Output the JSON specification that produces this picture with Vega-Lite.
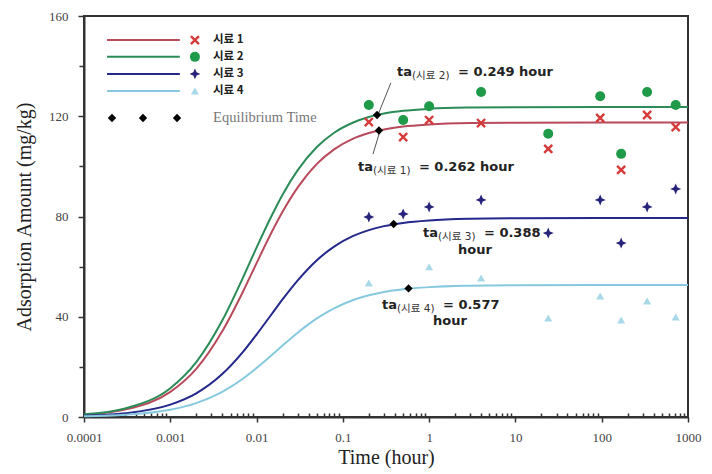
{
  "$schema": "https://vega.github.io/schema/vega-lite/v6.json",
  "width": 604,
  "height": 401,
  "autosize": {"type": "none"},
  "padding": {"left": 84, "top": 16, "right": 24, "bottom": 57},
  "background": "white",
  "config": {
    "view": {"stroke": "#333", "strokeWidth": 2},
    "axis": {
      "grid": false,
      "domainColor": "#333",
      "domainWidth": 2,
      "tickColor": "#333",
      "tickWidth": 1.5,
      "labelFont": "Liberation Serif",
      "labelFontSize": 13,
      "labelColor": "#444",
      "titleFont": "Liberation Serif",
      "titleFontSize": 20,
      "titleFontWeight": "normal",
      "titleColor": "#222"
    }
  },
  "datasets": {
    "curves": [
      {"time": 0.0001, "amount": 0.92, "sample": "시료 1"},
      {"time": 0.0003, "amount": 2.94, "sample": "시료 1"},
      {"time": 0.001, "amount": 10.0, "sample": "시료 1"},
      {"time": 0.002, "amount": 19.2, "sample": "시료 1"},
      {"time": 0.004, "amount": 34.2, "sample": "시료 1"},
      {"time": 0.007, "amount": 50.2, "sample": "시료 1"},
      {"time": 0.01, "amount": 61.4, "sample": "시료 1"},
      {"time": 0.015, "amount": 73.8, "sample": "시료 1"},
      {"time": 0.02, "amount": 81.85, "sample": "시료 1"},
      {"time": 0.03, "amount": 91.6, "sample": "시료 1"},
      {"time": 0.05, "amount": 101.0, "sample": "시료 1"},
      {"time": 0.08, "amount": 106.9, "sample": "시료 1"},
      {"time": 0.13, "amount": 111.0, "sample": "시료 1"},
      {"time": 0.2, "amount": 113.3, "sample": "시료 1"},
      {"time": 0.3, "amount": 114.75, "sample": "시료 1"},
      {"time": 0.5, "amount": 115.9, "sample": "시료 1"},
      {"time": 1, "amount": 116.7, "sample": "시료 1"},
      {"time": 3, "amount": 117.26, "sample": "시료 1"},
      {"time": 10, "amount": 117.43, "sample": "시료 1"},
      {"time": 100, "amount": 117.5, "sample": "시료 1"},
      {"time": 1000, "amount": 117.5, "sample": "시료 1"},
      {"time": 0.0001, "amount": 1.07, "sample": "시료 2"},
      {"time": 0.0003, "amount": 3.4, "sample": "시료 2"},
      {"time": 0.001, "amount": 11.5, "sample": "시료 2"},
      {"time": 0.002, "amount": 21.9, "sample": "시료 2"},
      {"time": 0.004, "amount": 38.5, "sample": "시료 2"},
      {"time": 0.007, "amount": 55.8, "sample": "시료 2"},
      {"time": 0.01, "amount": 67.6, "sample": "시료 2"},
      {"time": 0.015, "amount": 80.4, "sample": "시료 2"},
      {"time": 0.02, "amount": 88.7, "sample": "시료 2"},
      {"time": 0.03, "amount": 98.5, "sample": "시료 2"},
      {"time": 0.05, "amount": 107.7, "sample": "시료 2"},
      {"time": 0.08, "amount": 113.5, "sample": "시료 2"},
      {"time": 0.13, "amount": 117.4, "sample": "시료 2"},
      {"time": 0.2, "amount": 119.7, "sample": "시료 2"},
      {"time": 0.3, "amount": 121.06, "sample": "시료 2"},
      {"time": 0.5, "amount": 122.16, "sample": "시료 2"},
      {"time": 1, "amount": 122.96, "sample": "시료 2"},
      {"time": 3, "amount": 123.47, "sample": "시료 2"},
      {"time": 10, "amount": 123.64, "sample": "시료 2"},
      {"time": 100, "amount": 123.69, "sample": "시료 2"},
      {"time": 1000, "amount": 123.7, "sample": "시료 2"},
      {"time": 0.0001, "amount": 0.49, "sample": "시료 3"},
      {"time": 0.0003, "amount": 1.49, "sample": "시료 3"},
      {"time": 0.001, "amount": 4.92, "sample": "시료 3"},
      {"time": 0.002, "amount": 9.43, "sample": "시료 3"},
      {"time": 0.004, "amount": 17.13, "sample": "시료 3"},
      {"time": 0.007, "amount": 26.1, "sample": "시료 3"},
      {"time": 0.01, "amount": 32.9, "sample": "시료 3"},
      {"time": 0.015, "amount": 41.1, "sample": "시료 3"},
      {"time": 0.02, "amount": 46.9, "sample": "시료 3"},
      {"time": 0.03, "amount": 54.5, "sample": "시료 3"},
      {"time": 0.05, "amount": 62.55, "sample": "시료 3"},
      {"time": 0.08, "amount": 68.09, "sample": "시료 3"},
      {"time": 0.13, "amount": 72.14, "sample": "시료 3"},
      {"time": 0.2, "amount": 74.58, "sample": "시료 3"},
      {"time": 0.3, "amount": 76.16, "sample": "시료 3"},
      {"time": 0.5, "amount": 77.45, "sample": "시료 3"},
      {"time": 1, "amount": 78.43, "sample": "시료 3"},
      {"time": 3, "amount": 79.09, "sample": "시료 3"},
      {"time": 10, "amount": 79.31, "sample": "시료 3"},
      {"time": 100, "amount": 79.39, "sample": "시료 3"},
      {"time": 1000, "amount": 79.4, "sample": "시료 3"},
      {"time": 0.0001, "amount": 0.31, "sample": "시료 4"},
      {"time": 0.0003, "amount": 0.91, "sample": "시료 4"},
      {"time": 0.001, "amount": 2.93, "sample": "시료 4"},
      {"time": 0.002, "amount": 5.55, "sample": "시료 4"},
      {"time": 0.004, "amount": 10.04, "sample": "시료 4"},
      {"time": 0.007, "amount": 15.37, "sample": "시료 4"},
      {"time": 0.01, "amount": 19.52, "sample": "시료 4"},
      {"time": 0.015, "amount": 24.7, "sample": "시료 4"},
      {"time": 0.02, "amount": 28.49, "sample": "시료 4"},
      {"time": 0.03, "amount": 33.64, "sample": "시료 4"},
      {"time": 0.05, "amount": 39.33, "sample": "시료 4"},
      {"time": 0.08, "amount": 43.46, "sample": "시료 4"},
      {"time": 0.13, "amount": 46.6, "sample": "시료 4"},
      {"time": 0.2, "amount": 48.57, "sample": "시료 4"},
      {"time": 0.3, "amount": 49.87, "sample": "시료 4"},
      {"time": 0.5, "amount": 50.97, "sample": "시료 4"},
      {"time": 1, "amount": 51.82, "sample": "시료 4"},
      {"time": 3, "amount": 52.4, "sample": "시료 4"},
      {"time": 10, "amount": 52.61, "sample": "시료 4"},
      {"time": 100, "amount": 52.69, "sample": "시료 4"},
      {"time": 1000, "amount": 52.7, "sample": "시료 4"}
    ],
    "pts": [
      {"time": 0.2, "amount": 117.7, "sample": "시료 1"},
      {"time": 0.5, "amount": 111.7, "sample": "시료 1"},
      {"time": 1, "amount": 118.5, "sample": "시료 1"},
      {"time": 4, "amount": 117.3, "sample": "시료 1"},
      {"time": 24, "amount": 107, "sample": "시료 1"},
      {"time": 96, "amount": 119.3, "sample": "시료 1"},
      {"time": 168, "amount": 98.6, "sample": "시료 1"},
      {"time": 336, "amount": 120.5, "sample": "시료 1"},
      {"time": 720, "amount": 115.7, "sample": "시료 1"},
      {"time": 0.00193, "amount": 150.4, "sample": "시료 1"},
      {"time": 0.2, "amount": 124.5, "sample": "시료 2"},
      {"time": 0.5, "amount": 118.5, "sample": "시료 2"},
      {"time": 1, "amount": 124, "sample": "시료 2"},
      {"time": 4, "amount": 129.7, "sample": "시료 2"},
      {"time": 24, "amount": 113, "sample": "시료 2"},
      {"time": 96, "amount": 128, "sample": "시료 2"},
      {"time": 168, "amount": 105, "sample": "시료 2"},
      {"time": 336, "amount": 129.7, "sample": "시료 2"},
      {"time": 720, "amount": 124.5, "sample": "시료 2"},
      {"time": 0.00193, "amount": 143.7, "sample": "시료 2"},
      {"time": 0.2, "amount": 79.8, "sample": "시료 3"},
      {"time": 0.5, "amount": 81, "sample": "시료 3"},
      {"time": 1, "amount": 83.8, "sample": "시료 3"},
      {"time": 4, "amount": 86.6, "sample": "시료 3"},
      {"time": 24, "amount": 73.4, "sample": "시료 3"},
      {"time": 96, "amount": 86.6, "sample": "시료 3"},
      {"time": 168, "amount": 69.4, "sample": "시료 3"},
      {"time": 336, "amount": 83.8, "sample": "시료 3"},
      {"time": 720, "amount": 91, "sample": "시료 3"},
      {"time": 0.00193, "amount": 136.9, "sample": "시료 3"},
      {"time": 0.2, "amount": 53.5, "sample": "시료 4"},
      {"time": 1, "amount": 59.9, "sample": "시료 4"},
      {"time": 4, "amount": 55.5, "sample": "시료 4"},
      {"time": 24, "amount": 39.5, "sample": "시료 4"},
      {"time": 96, "amount": 48.3, "sample": "시료 4"},
      {"time": 168, "amount": 38.7, "sample": "시료 4"},
      {"time": 336, "amount": 46.3, "sample": "시료 4"},
      {"time": 720, "amount": 39.9, "sample": "시료 4"},
      {"time": 0.00193, "amount": 130.1, "sample": "시료 4"}
    ],
    "eq": [
      {"time": 0.262, "amount": 114.3},
      {"time": 0.249, "amount": 120.5},
      {"time": 0.388, "amount": 77.0},
      {"time": 0.577, "amount": 51.3},
      {"time": 0.000211, "amount": 119.3},
      {"time": 0.000483, "amount": 119.3},
      {"time": 0.001197, "amount": 119.3}
    ],
    "legline": [
      {"t1": 0.000185, "t2": 0.00129, "lt": 0.00313, "amount": 150.4, "sample": "시료 1"},
      {"t1": 0.000185, "t2": 0.00129, "lt": 0.00313, "amount": 143.7, "sample": "시료 2"},
      {"t1": 0.000185, "t2": 0.00129, "lt": 0.00313, "amount": 136.9, "sample": "시료 3"},
      {"t1": 0.000185, "t2": 0.00129, "lt": 0.00313, "amount": 130.1, "sample": "시료 4"}
    ],
    "labels": [
      {"time": 0.00313, "amount": 119.3, "text": "Equilibrium Time"}
    ],
    "leaders": [
      {"t1": 0.360, "q1": 133.3, "t2": 0.255, "q2": 120.5},
      {"t1": 0.269, "q1": 114.1, "t2": 0.2234, "q2": 104.9}
    ],
    "ann": [
      {"time": 0.424, "amount": 137.7, "sub": "(시료 2)", "rest": "= 0.249 hour"},
      {"time": 0.1496, "amount": 99.8, "sub": "(시료 1)", "rest": "= 0.262 hour"},
      {"time": 0.848, "amount": 73.4, "sub": "(시료 3)", "rest": "= 0.388"},
      {"time": 0.284, "amount": 44.7, "sub": "(시료 4)", "rest": "= 0.577"}
    ],
    "ann2": [
      {"time": 3.40, "amount": 66.6, "text": "hour"},
      {"time": 1.74, "amount": 38.3, "text": "hour"}
    ]
  },
  "layer": [
    {
      "data": {"name": "curves"},
      "mark": {"type": "line", "interpolate": "monotone", "strokeWidth": 2},
      "encoding": {
        "x": {
          "field": "time", "type": "quantitative",
          "scale": {"type": "log", "domain": [0.0001, 1000]},
          "axis": {"orient": "bottom", "values": [0.0001, 0.001, 0.01, 0.1, 1, 10, 100, 1000], "format": "~g", "tickSize": 5, "labelPadding": 9, "labelFlush": false, "labelOverlap": false, "title": "Time (hour)", "titlePadding": 3}
        },
        "y": {
          "field": "amount", "type": "quantitative",
          "scale": {"domain": [0, 160], "nice": false, "zero": true},
          "axis": {"orient": "left", "values": [0, 40, 80, 120, 160], "tickSize": 6, "labelPadding": 10, "title": "Adsorption Amount (mg/kg)", "titlePadding": 14}
        },
        "color": {
          "field": "sample", "type": "nominal",
          "scale": {"domain": ["시료 1", "시료 2", "시료 3", "시료 4"], "range": ["#b84a5c", "#2b8c57", "#23288a", "#86c9df"]},
          "legend": null
        }
      }
    },
    {
      "data": {"name": "leaders"},
      "mark": {"type": "rule", "color": "#555", "strokeWidth": 1},
      "encoding": {
        "x": {"field": "t1", "type": "quantitative", "axis": {"orient": "bottom", "values": [0.0002,0.0003,0.0004,0.0005,0.0006,0.0007,0.0008,0.0009,0.002,0.003,0.004,0.005,0.006,0.007,0.008,0.009,0.02,0.03,0.04,0.05,0.06,0.07,0.08,0.09,0.2,0.3,0.4,0.5,0.6,0.7,0.8,0.9,2,3,4,5,6,7,8,9,20,30,40,50,60,70,80,90,200,300,400,500,600,700,800,900], "labels": false, "domain": false, "tickSize": -4, "title": null}},
        "y": {"field": "q1", "type": "quantitative", "axis": {"orient": "left", "values": [20, 60, 100, 140], "labels": false, "domain": false, "tickSize": 5, "title": null}},
        "x2": {"field": "t2"},
        "y2": {"field": "q2"}
      }
    },
    {
      "data": {"name": "legline"},
      "mark": {"type": "rule", "strokeWidth": 2},
      "encoding": {
        "x": {"field": "t1", "type": "quantitative", "axis": null},
        "x2": {"field": "t2"},
        "y": {"field": "amount", "type": "quantitative", "axis": null},
        "color": {"field": "sample", "type": "nominal", "legend": null}
      }
    },
    {
      "data": {"name": "pts"},
      "transform": [{"filter": "datum.sample === '시료 1'"}],
      "mark": {"type": "point", "shape": "M-1,-1L1,1M-1,1L1,-1", "filled": false, "strokeWidth": 2.4, "size": 65, "color": "#d63a3a", "opacity": 1},
      "encoding": {
        "x": {"field": "time", "type": "quantitative", "axis": null},
        "y": {"field": "amount", "type": "quantitative", "axis": null}
      }
    },
    {
      "data": {"name": "pts"},
      "transform": [{"filter": "datum.sample === '시료 2'"}],
      "mark": {"type": "circle", "size": 100, "color": "#1e9a48", "opacity": 1},
      "encoding": {
        "x": {"field": "time", "type": "quantitative", "axis": null},
        "y": {"field": "amount", "type": "quantitative", "axis": null}
      }
    },
    {
      "data": {"name": "pts"},
      "transform": [{"filter": "datum.sample === '시료 3'"}],
      "mark": {"type": "point", "shape": "M0,-1L0.3,-0.3L1,0L0.3,0.3L0,1L-0.3,0.3L-1,0L-0.3,-0.3Z", "filled": true, "size": 120, "color": "#27237a", "opacity": 1},
      "encoding": {
        "x": {"field": "time", "type": "quantitative", "axis": null},
        "y": {"field": "amount", "type": "quantitative", "axis": null}
      }
    },
    {
      "data": {"name": "pts"},
      "transform": [{"filter": "datum.sample === '시료 4'"}],
      "mark": {"type": "point", "shape": "triangle-up", "filled": true, "size": 65, "color": "#a9d9e8", "opacity": 1},
      "encoding": {
        "x": {"field": "time", "type": "quantitative", "axis": null},
        "y": {"field": "amount", "type": "quantitative", "axis": null}
      }
    },
    {
      "data": {"name": "eq"},
      "mark": {"type": "point", "shape": "diamond", "filled": true, "size": 70, "color": "#000", "opacity": 1},
      "encoding": {
        "x": {"field": "time", "type": "quantitative", "axis": null},
        "y": {"field": "amount", "type": "quantitative", "axis": null}
      }
    },
    {
      "data": {"name": "legline"},
      "mark": {"type": "text", "align": "left", "baseline": "middle", "font": "Noto Sans CJK KR", "fontWeight": "bold", "fontSize": 11.5, "color": "#222"},
      "encoding": {
        "x": {"field": "lt", "type": "quantitative", "axis": null},
        "y": {"field": "amount", "type": "quantitative", "axis": null},
        "text": {"field": "sample"}
      }
    },
    {
      "data": {"name": "labels"},
      "mark": {"type": "text", "align": "left", "baseline": "middle", "font": "Liberation Serif", "fontSize": 14.5, "color": "#777"},
      "encoding": {
        "x": {"field": "time", "type": "quantitative", "axis": null},
        "y": {"field": "amount", "type": "quantitative", "axis": null},
        "text": {"field": "text"}
      }
    },
    {
      "data": {"name": "ann"},
      "mark": {"type": "text", "text": "ta", "align": "left", "baseline": "middle", "font": "DejaVu Sans", "fontWeight": "bold", "fontSize": 13, "color": "#222"},
      "encoding": {
        "x": {"field": "time", "type": "quantitative", "axis": null},
        "y": {"field": "amount", "type": "quantitative", "axis": null}
      }
    },
    {
      "data": {"name": "ann"},
      "mark": {"type": "text", "align": "left", "baseline": "middle", "dx": 15, "dy": 4, "font": "DejaVu Sans, Noto Sans CJK KR", "fontSize": 10.5, "color": "#333"},
      "encoding": {
        "x": {"field": "time", "type": "quantitative", "axis": null},
        "y": {"field": "amount", "type": "quantitative", "axis": null},
        "text": {"field": "sub"}
      }
    },
    {
      "data": {"name": "ann"},
      "mark": {"type": "text", "align": "left", "baseline": "middle", "dx": 61, "font": "DejaVu Sans", "fontWeight": "bold", "fontSize": 13, "color": "#222"},
      "encoding": {
        "x": {"field": "time", "type": "quantitative", "axis": null},
        "y": {"field": "amount", "type": "quantitative", "axis": null},
        "text": {"field": "rest"}
      }
    },
    {
      "data": {"name": "ann2"},
      "mark": {"type": "text", "align": "center", "baseline": "middle", "font": "DejaVu Sans", "fontWeight": "bold", "fontSize": 13, "color": "#222"},
      "encoding": {
        "x": {"field": "time", "type": "quantitative", "axis": null},
        "y": {"field": "amount", "type": "quantitative", "axis": null},
        "text": {"field": "text"}
      }
    }
  ],
  "resolve": {"axis": {"x": "independent", "y": "independent"}}
}
